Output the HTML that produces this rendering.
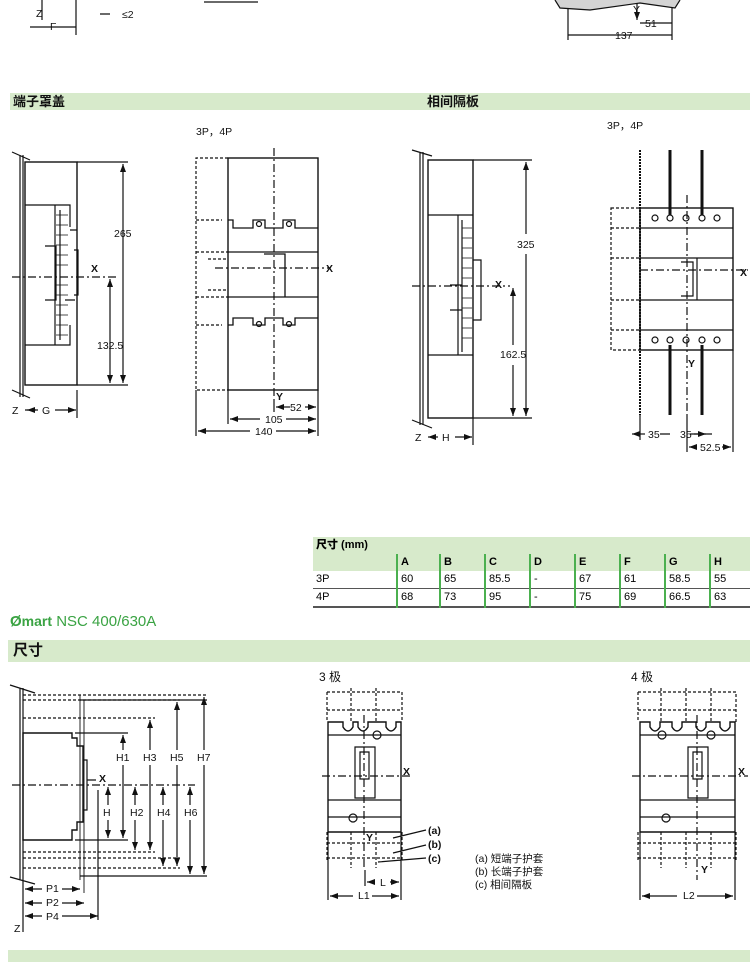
<!DOCTYPE html>
<html><head><meta charset="utf-8"><style>
body{margin:0;width:750px;height:960px;background:#fff;position:relative;overflow:hidden;font-family:"Liberation Sans","Noto Sans CJK SC",sans-serif;}
.bar{position:absolute;background:#d7eacb;font-weight:bold;color:#111;}
svg{position:absolute;left:0;top:0}
table{position:absolute;left:313px;top:537px;border-collapse:collapse;font-size:11px;width:437px}
td{padding:0 0 0 3px;height:17px;line-height:17px}
</style></head><body>
<div class="bar" style="left:10px;top:93px;width:740px;height:17px;font-size:13px;line-height:17px;padding-left:3px">端子罩盖<span style="position:absolute;left:417px">相间隔板</span></div>
<div class="bar" style="left:8px;top:640px;width:742px;height:22px;font-size:15px;line-height:22px;padding-left:5px">尺寸</div>
<div class="bar" style="left:8px;top:950px;width:742px;height:12px"></div>
<div style="position:absolute;left:10px;top:613px;font-size:15px;color:#3aa343"><b>Ø</b><b style="font-size:14px">mart</b> NSC 400/630A</div>
<table>
<tr style="background:#d7eacb"><td colspan="9" style="font-weight:bold"><b>尺寸</b> (mm)</td></tr>
<tr style="background:#d7eacb;font-weight:bold"><td style="width:80px"></td><td style="border-left:2px solid #4bb04f;width:38px">A</td><td style="border-left:2px solid #4bb04f;width:40px">B</td><td style="border-left:2px solid #4bb04f;width:40px">C</td><td style="border-left:2px solid #4bb04f;width:40px">D</td><td style="border-left:2px solid #4bb04f;width:40px">E</td><td style="border-left:2px solid #4bb04f;width:40px">F</td><td style="border-left:2px solid #4bb04f;width:40px">G</td><td style="border-left:2px solid #4bb04f">H</td></tr>
<tr style="border-bottom:1px solid #555"><td>3P</td><td style="border-left:2px solid #4bb04f">60</td><td style="border-left:2px solid #4bb04f">65</td><td style="border-left:2px solid #4bb04f">85.5</td><td style="border-left:2px solid #4bb04f">-</td><td style="border-left:2px solid #4bb04f">67</td><td style="border-left:2px solid #4bb04f">61</td><td style="border-left:2px solid #4bb04f">58.5</td><td style="border-left:2px solid #4bb04f">55</td></tr>
<tr style="border-bottom:2px solid #555"><td>4P</td><td style="border-left:2px solid #4bb04f">68</td><td style="border-left:2px solid #4bb04f">73</td><td style="border-left:2px solid #4bb04f">95</td><td style="border-left:2px solid #4bb04f">-</td><td style="border-left:2px solid #4bb04f">75</td><td style="border-left:2px solid #4bb04f">69</td><td style="border-left:2px solid #4bb04f">66.5</td><td style="border-left:2px solid #4bb04f">63</td></tr>
</table>
<svg width="750" height="960" viewBox="0 0 750 960" font-family="Liberation Sans, Noto Sans CJK SC, sans-serif" font-size="10.5" fill="none" stroke="#111" stroke-width="1.2">
<defs><marker id="a" markerWidth="8" markerHeight="6" refX="8" refY="3" orient="auto-start-reverse" markerUnits="userSpaceOnUse"><path d="M0,0L8,3L0,6z" fill="#111" stroke="none"/></marker></defs>
<g fill="#111" stroke="none">
<text x="36" y="17">Z</text><text x="50" y="30">F</text><text x="122" y="18">≤2</text><text x="633" y="13">Y</text><text x="645" y="27">51</text><text x="615" y="39">137</text>
<text x="196" y="135">3P，4P</text><text x="607" y="129">3P，4P</text>
<text x="114" y="237">265</text><text x="91" y="272" font-weight="bold">X</text><text x="97" y="349">132.5</text><text x="12" y="414">Z</text><text x="42" y="414">G</text>
<text x="326" y="272" font-weight="bold">X</text><text x="276" y="400" font-weight="bold">Y</text><text x="290" y="411">52</text><text x="265" y="423">105</text><text x="255" y="435">140</text>
<text x="517" y="248">325</text><text x="495" y="288" font-weight="bold">X</text><text x="500" y="358">162.5</text><text x="415" y="441">Z</text><text x="442" y="441">H</text>
<text x="740" y="276" font-weight="bold">X</text><text x="688" y="367" font-weight="bold">Y</text><text x="648" y="438">35</text><text x="680" y="438">35</text><text x="700" y="451">52.5</text>
<text x="319" y="681" font-size="12">3 极</text><text x="631" y="681" font-size="12">4 极</text>
<text x="403" y="775" font-weight="bold">X</text><text x="366" y="841" font-weight="bold">Y</text><text x="380" y="886">L</text><text x="358" y="899">L1</text>
<text x="428" y="834" font-weight="bold">(a)</text><text x="428" y="848" font-weight="bold">(b)</text><text x="428" y="862" font-weight="bold">(c)</text>
<text x="475" y="862">(a) 短端子护套</text><text x="475" y="875">(b) 长端子护套</text><text x="475" y="888">(c) 相间隔板</text>
<text x="738" y="775" font-weight="bold">X</text><text x="701" y="873" font-weight="bold">Y</text><text x="683" y="899">L2</text>
<text x="116" y="761">H1</text><text x="143" y="761">H3</text><text x="170" y="761">H5</text><text x="197" y="761">H7</text>
<text x="103" y="816">H</text><text x="130" y="816">H2</text><text x="157" y="816">H4</text><text x="184" y="816">H6</text>
<text x="99" y="782" font-weight="bold">X</text><text x="46" y="892">P1</text><text x="46" y="906">P2</text><text x="46" y="920">P4</text><text x="14" y="932">Z</text>
</g>
<path d="M42 0V20M76 0V35M30 27H76M100 14H110M204 2H258M568 0V40M672 0V40M568 35H672M640 23H672M637 0V20" marker-end="url(#a)"/>
<path d="M555 0L560 8L590 10L640 3L675 8L680 0" fill="#d4d4d4"/>
<path d="M12 152L30 160M12 390L30 398"/>
<path d="M20 155V397M23 155V397" />
<rect x="25" y="162" width="52" height="223" stroke-width="1.4"/>
<path d="M25 205H70V227M25 345H70V325M55 205V345M60 210V340M45 246H56V300H45M70 230H77M65 300H75"/>
<path d="M56 215H68M56 225H68M56 235H68M56 245H68M56 255H68M56 265H68M56 285H68M56 295H68M56 305H68M56 315H68M56 325H68M56 335H68" stroke-width=".7"/>
<path d="M74 250H78V295H74"/>
<path d="M12 277H118" stroke-dasharray="8 3 2 3"/>
<path d="M77 162H128M77 385H128"/>
<path d="M123 250V164" marker-end="url(#a)"/><path d="M123 250V383" marker-end="url(#a)"/>
<path d="M110 340V279" marker-end="url(#a)"/><path d="M110 340V383" marker-end="url(#a)"/>
<path d="M77 390V418M25 410H36" /><path d="M55 410H76" marker-end="url(#a)"/><path d="M38 410H27" marker-end="url(#a)"/>
<rect x="228" y="158" width="90" height="232" stroke-width="1.4"/>
<path d="M228 220H233V228H253V220H265V228H283V220H295V228H318M228 325H233V318H253V325H265V318H283V325H295V318H318M228 252H318M228 297H318M264 254H285V297H264" stroke-width="1.3"/>
<circle cx="259" cy="224" r="2.5"/><circle cx="289" cy="224" r="2.5"/><circle cx="259" cy="324" r="2.5"/><circle cx="289" cy="324" r="2.5"/>
<path d="M228 158H196V390H228M196 220H222M196 252H228M196 297H228M196 325H222M208 259H228M208 290H228" stroke-dasharray="3 2"/>
<path d="M274 148V400" stroke-dasharray="8 3 2 3"/><path d="M215 268H330" stroke-dasharray="8 3 2 3"/>
<path d="M196 390V436M318 390V436M228 390V424M274 400V412"/>
<path d="M290 407H276" marker-end="url(#a)"/><path d="M305 407H316" marker-end="url(#a)"/>
<path d="M260 419H230" marker-end="url(#a)"/><path d="M286 419H316" marker-end="url(#a)"/>
<path d="M250 431H198" marker-end="url(#a)"/><path d="M276 431H316" marker-end="url(#a)"/>
<path d="M412 150L432 156M412 420L432 428M420 152V425M423 152V425"/>
<rect x="428" y="160" width="45" height="258" stroke-width="1.4"/>
<path d="M428 215H473M428 355H473M458 215V355M462 220V352M450 285H462V310H450M473 260H481V320H473"/>
<path d="M462 228H472M462 238H472M462 248H472M462 258H472M462 268H472M462 278H472M462 298H472M462 308H472M462 318H472M462 328H472M462 338H472" stroke-width=".7"/>
<path d="M412 286H510" stroke-dasharray="8 3 2 3"/>
<path d="M473 160H532M473 418H532"/>
<path d="M526 234V162" marker-end="url(#a)"/><path d="M526 254V416" marker-end="url(#a)"/>
<path d="M513 345V288" marker-end="url(#a)"/><path d="M513 365V416" marker-end="url(#a)"/>
<path d="M473 418V445"/><path d="M438 437H428" marker-end="url(#a)"/><path d="M455 437H472" marker-end="url(#a)"/>
<rect x="640" y="208" width="93" height="142" stroke-width="1.4"/>
<path d="M640 228H733M640 258H733M640 300H733M640 330H733M677 258H697V300H677M681 262H693V296H681"/>
<g><circle cx="655" cy="218" r="3"/><circle cx="670" cy="218" r="3"/><circle cx="686" cy="218" r="3"/><circle cx="702" cy="218" r="3"/><circle cx="717" cy="218" r="3"/><circle cx="655" cy="340" r="3"/><circle cx="670" cy="340" r="3"/><circle cx="686" cy="340" r="3"/><circle cx="702" cy="340" r="3"/><circle cx="717" cy="340" r="3"/></g>
<path d="M670 150V215M702 150V215M670 345V415M702 345V415" stroke-width="3"/>
<path d="M640 150V415" stroke-width="2" stroke-dasharray="2 1"/>
<path d="M611 208H640V350H611ZM611 228H640M611 258H640M611 300H640M611 330H640" stroke-dasharray="3 2"/>
<path d="M687 195V415" stroke-dasharray="8 3 2 3"/><path d="M640 270H748" stroke-dasharray="8 3 2 3"/>
<path d="M640 415V440M733 350V452M687 415V452"/>
<path d="M645 434H632" marker-end="url(#a)"/><path d="M660 434H670M690 434H712" /><path d="M694 434H706" marker-end="url(#a)"/>
<path d="M697 447H689" marker-end="url(#a)"/><path d="M722 447H731" marker-end="url(#a)"/>
<path d="M10 685L35 693M10 877L35 884M20 688V880M23 688V880"/>
<path d="M23 733H72V738H77V746H83V822H77V830H72V840H23Z" stroke-width="1.4"/>
<path d="M83 760H87V810H83M87 780H96"/>
<path d="M23 695H207M23 700H180M23 718H155M23 852H155M23 858H180M23 868H180" stroke-dasharray="3 2"/>
<path d="M80 695V880M84 700V893" stroke-width=".9"/>
<path d="M80 700H207M75 733H128M75 840H128M80 876H207"/>
<path d="M12 785H195" stroke-dasharray="8 3 2 3"/>
<path d="M123 750V735" marker-end="url(#a)"/><path d="M123 765V838" marker-end="url(#a)"/>
<path d="M150 750V720" marker-end="url(#a)"/><path d="M150 765V850" marker-end="url(#a)"/>
<path d="M177 750V702" marker-end="url(#a)"/><path d="M177 765V866" marker-end="url(#a)"/>
<path d="M204 750V697" marker-end="url(#a)"/><path d="M204 765V874" marker-end="url(#a)"/>
<path d="M108 805V787" marker-end="url(#a)"/><path d="M108 820V838" marker-end="url(#a)"/>
<path d="M135 805V787" marker-end="url(#a)"/><path d="M135 820V850" marker-end="url(#a)"/>
<path d="M163 805V787" marker-end="url(#a)"/><path d="M163 820V866" marker-end="url(#a)"/>
<path d="M190 805V787" marker-end="url(#a)"/><path d="M190 820V874" marker-end="url(#a)"/>
<path d="M98 790V920M23 880V932"/>
<path d="M42 889H25" marker-end="url(#a)"/><path d="M62 889H80" marker-end="url(#a)"/>
<path d="M42 903H25" marker-end="url(#a)"/><path d="M62 903H84" marker-end="url(#a)"/>
<path d="M42 916H25" marker-end="url(#a)"/><path d="M62 916H98" marker-end="url(#a)"/>
<path d="M328 722V832H401V722H396V727Q391 735 386 727V722H368V727Q363 735 358 727V722H353V727Q348 735 343 727V722Z" stroke-width="1.4"/>
<path d="M328 735H401M328 800H401M328 817H401" />
<path d="M355 747H375V798H355ZM360 752H369V779H360Z"/>
<circle cx="377" cy="735" r="4"/><circle cx="353" cy="818" r="4"/>
<path d="M327 692H402V722M327 692V722M327 710H402M327 843H402M327 858H402M327 832V862M402 832V862M351 688V722M376 688V722M351 832V868M376 832V868" stroke-dasharray="3 2"/>
<path d="M364 715V870" stroke-dasharray="8 3 2 3"/><path d="M322 776H410" stroke-dasharray="8 3 2 3"/>
<path d="M328 832V900M401 832V900M365 870V886M393 838L426 830M393 853L426 845M378 862L426 858"/>
<path d="M375 882H367" marker-end="url(#a)"/><path d="M390 882H399" marker-end="url(#a)"/>
<path d="M353 896H330" marker-end="url(#a)"/><path d="M372 896H399" marker-end="url(#a)"/>
<path d="M640 722V832H735V722H730V727Q725 735 720 727V722H706V727Q701 735 696 727V722H682V727Q677 735 672 727V722H660V727Q655 735 650 727V722Z" stroke-width="1.4"/>
<path d="M640 735H735M640 800H735M640 817H735"/>
<path d="M688 747H708V798H688ZM693 752H702V779H693Z"/>
<circle cx="662" cy="735" r="4"/><circle cx="711" cy="735" r="4"/><circle cx="666" cy="818" r="4"/>
<path d="M638 692H736V722M638 692V722M638 710H736M638 843H736M638 858H736M638 832V862M736 832V862M661 688V722M686 688V722M711 688V722M661 832V868M686 832V868M711 832V868" stroke-dasharray="3 2"/>
<path d="M697 715V880" stroke-dasharray="8 3 2 3"/><path d="M632 776H748" stroke-dasharray="8 3 2 3"/>
<path d="M640 832V900M735 832V900"/>
<path d="M677 896H642" marker-end="url(#a)"/><path d="M697 896H733" marker-end="url(#a)"/>
</svg>
</body></html>
